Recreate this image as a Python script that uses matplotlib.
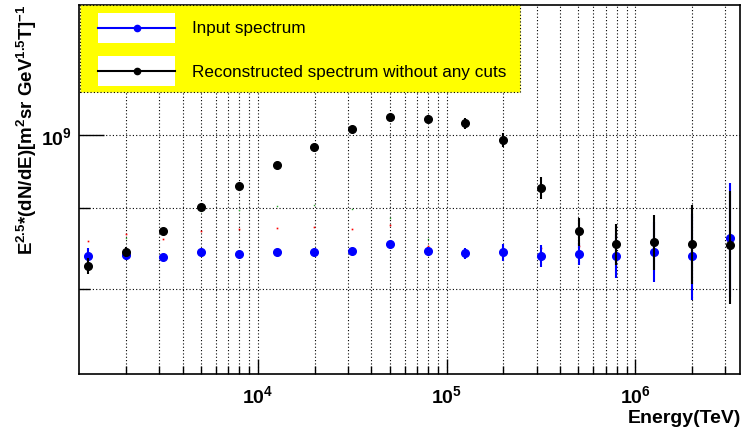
"""
Energy spectrum (E^2.5 weighted): input vs reconstructed without cuts.
"""

import math
import matplotlib
matplotlib.use('Agg')
import matplotlib.pyplot as plt
from matplotlib.patches import Rectangle
from matplotlib.ticker import LogLocator, FixedLocator, FuncFormatter, NullFormatter

plt.rcParams['font.family'] = ['Liberation Sans', 'DejaVu Sans']
plt.rcParams['mathtext.fontset'] = 'custom'
plt.rcParams['mathtext.rm'] = 'Liberation Sans:bold'
plt.rcParams['mathtext.it'] = 'Liberation Sans:bold:italic'
plt.rcParams['mathtext.bf'] = 'Liberation Sans:bold'

# bin centres (TeV)
ENERGY = [1259, 1995, 3162, 5012, 7943, 12589, 19953, 31623, 50119,
          79433, 125893, 199526, 316228, 501187, 794328, 1258925,
          1995262, 3162278]

# input spectrum, units of 1e8
INPUT_FLUX = [8.40, 8.41, 8.38, 8.45, 8.42, 8.44, 8.44, 8.46, 8.55,
              8.46, 8.43, 8.44, 8.40, 8.42, 8.40, 8.45, 8.40, 8.62]
INPUT_ERR = [0.097, 0.061, 0.024, 0.024, 0.024, 0.024, 0.024, 0.024, 0.024,
             0.049, 0.070, 0.105, 0.133, 0.133, 0.266, 0.365, 0.52, 0.71]

# reconstructed spectrum without cuts, units of 1e8
RECO_FLUX = [8.28, 8.45, 8.71, 9.01, 9.29, 9.58, 9.83, 10.09, 10.26,
             10.24, 10.17, 9.93, 9.27, 8.70, 8.54, 8.57, 8.55, 8.53]
RECO_ERR = [0.095, 0.061, 0.03, 0.03, 0.03, 0.03, 0.03, 0.03, 0.03,
            0.06, 0.088, 0.10, 0.147, 0.175, 0.25, 0.34, 0.49, 0.70]

# faint extra histograms drawn with dot markers
RED_ENERGY = ENERGY[:14]
RED_FLUX = [8.58, 8.67, 8.61, 8.71, 8.73, 8.74, 8.76, 8.73, 8.78,
            8.52, 8.43, 8.44, 8.49, 8.52]
GREEN_ENERGY = [1995, 5012, 7943, 12589, 19953, 31623, 50119, 79433]
GREEN_FLUX = [8.62, 8.96, 8.98, 9.03, 9.04, 8.99, 8.87, 8.61]

SCALE = 1e8
X_LIM = (1131, 3.585e6)
Y_LIM = (7.08e8, 1.207e9)
LEGEND_LABELS = ['Input spectrum', 'Reconstructed spectrum without any cuts']


def scaled(vals):
    return [v * SCALE for v in vals]


def power_label(val, pos):
    return '10$^{%d}$' % int(round(math.log10(val)))


def main():
    fig = plt.figure(figsize=(7.42, 4.35), dpi=100)
    ax = fig.add_axes([79 / 742, 60 / 435, 661 / 742, 369 / 435])

    ax.set_xscale('log')
    ax.set_yscale('log')
    ax.set_xlim(X_LIM)
    ax.set_ylim(Y_LIM)

    # dotted grid on every major and minor tick
    grid_kw = dict(color='black', linestyle=(0, (1, 2)), linewidth=0.8)
    ax.grid(True, which='both', **grid_kw)
    ax.set_axisbelow(True)

    ax.xaxis.set_major_locator(LogLocator(base=10, numticks=10))
    ax.xaxis.set_minor_locator(LogLocator(base=10, subs=range(2, 10), numticks=30))
    ax.xaxis.set_major_formatter(FuncFormatter(power_label))
    ax.xaxis.set_minor_formatter(NullFormatter())
    ax.yaxis.set_major_locator(FixedLocator([1e9]))
    ax.yaxis.set_minor_locator(FixedLocator([8e8, 9e8]))
    ax.yaxis.set_major_formatter(FuncFormatter(power_label))
    ax.yaxis.set_minor_formatter(NullFormatter())

    ax.tick_params(axis='x', which='major', direction='in', length=11, width=1,
                   pad=7, labelsize=14)
    ax.tick_params(axis='x', which='minor', direction='in', length=6, width=1)
    ax.tick_params(axis='y', which='major', direction='in', length=18, width=1,
                   pad=5, labelsize=14)
    ax.tick_params(axis='y', which='minor', direction='in', length=8, width=1)
    for lab in ax.get_xticklabels() + ax.get_yticklabels():
        lab.set_fontweight('bold')
    for sp in ax.spines.values():
        sp.set_linewidth(1.2)

    # extra dot-marker histograms
    ax.plot(RED_ENERGY, scaled(RED_FLUX), ls='none', marker='s',
            ms=1.2, mew=0, color='red')
    ax.plot(GREEN_ENERGY, scaled(GREEN_FLUX), ls='none', marker='s',
            ms=1.0, mew=0, color='#33aa33')

    ax.errorbar(ENERGY, scaled(INPUT_FLUX), yerr=scaled(INPUT_ERR),
                fmt='o', color='blue', ms=5.5, elinewidth=1.5, capsize=0,
                zorder=3)
    ax.errorbar(ENERGY, scaled(RECO_FLUX), yerr=scaled(RECO_ERR),
                fmt='o', color='black', ms=5.5, elinewidth=1.5, capsize=0,
                zorder=4)

    # legend box
    ax.add_patch(Rectangle((0.0015, 0.764), 0.665, 0.236, transform=ax.transAxes,
                           facecolor='yellow', edgecolor='black',
                           linestyle=(0, (1, 2)), linewidth=0.8, zorder=5))
    for y, col, label in zip([0.9377, 0.821], ['blue', 'black'], LEGEND_LABELS):
        ax.add_patch(Rectangle((0.0287, y - 0.040), 0.116, 0.080,
                               transform=ax.transAxes, facecolor='white',
                               edgecolor='none', zorder=6))
        ax.plot([0.0287, 0.1452], [y, y], transform=ax.transAxes, color=col,
                lw=1.5, zorder=7, clip_on=False)
        ax.plot([0.0870], [y], transform=ax.transAxes, marker='o', color=col,
                ms=4.5, zorder=8, clip_on=False)
        ax.text(0.171, y, label, transform=ax.transAxes, va='center',
                ha='left', fontsize=12.3, zorder=8)

    fig.text(27 / 742, 1 - 5 / 435,
             'E$^{2.5}$*(dN/dE)[m$^{2}$sr GeV$^{1.5}$T]$^{-1}$',
             rotation=90, ha='center', va='top', fontsize=13.5,
             fontweight='bold')
    fig.text(741 / 742, 1 - 423 / 435, 'Energy(TeV)', ha='right',
             va='baseline', fontsize=14, fontweight='bold')

    fig.savefig('out.png', dpi=100)
    plt.close(fig)


if __name__ == '__main__':
    main()
